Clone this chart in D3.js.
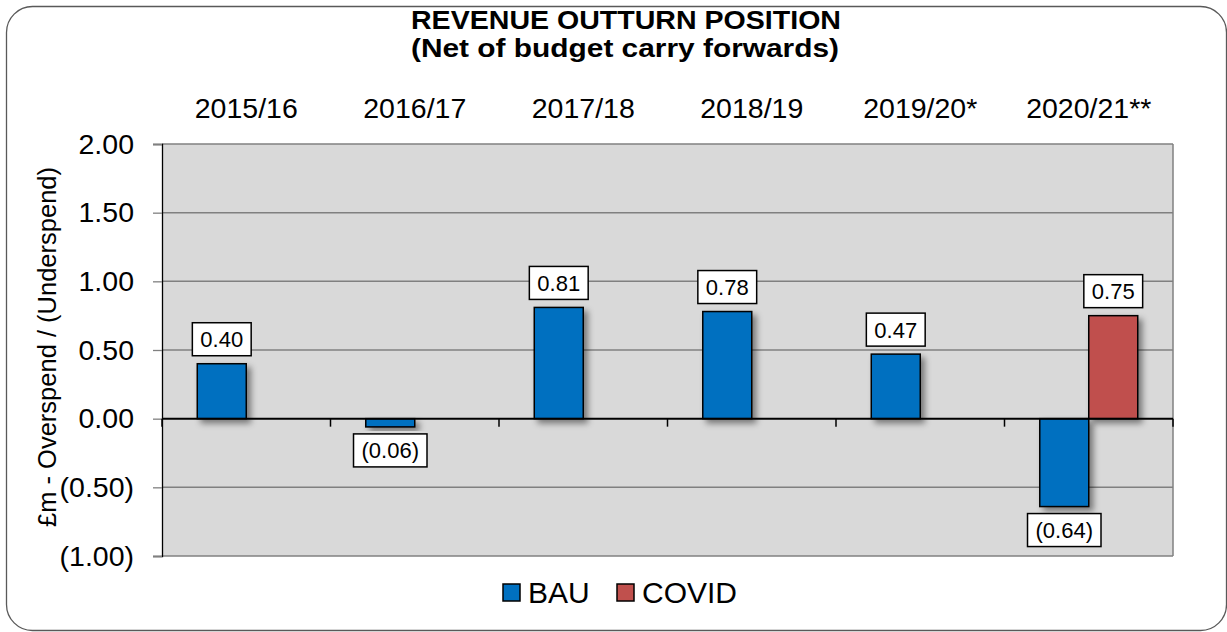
<!DOCTYPE html>
<html lang="en">
<head>
<meta charset="UTF-8">
<title>Revenue Outturn Position</title>
<script src="https://d3js.org/d3.v7.min.js"></script>
<style>
  body { margin: 0; background: #fff; }
  text { font-family: "Liberation Sans", Arial, sans-serif; fill: #000; }
</style>
</head>
<body>
<script>
// data
var years = ["2015/16", "2016/17", "2017/18", "2018/19", "2019/20*", "2020/21**"];
var seriesNames = ["BAU", "COVID"];
var bau = [0.40, -0.06, 0.81, 0.78, 0.47, -0.64];
var covid = [null, null, null, null, null, 0.75];
var yTicks = [-1, -0.5, 0, 0.5, 1, 1.5, 2];
var colours = {BAU: "#0070C0", COVID: "#C0504D"};

var W = 1227, H = 632;
var margin = {top: 144, right: 54, bottom: 76, left: 162};
var width = W - margin.left - margin.right,
    height = H - margin.top - margin.bottom;

function fmt(v) {
    var s = Math.abs(v).toFixed(2);
    return v < 0 ? "(" + s + ")" : s;
}

var svg = d3.select("body").append("svg")
    .attr("width", W)
    .attr("height", H);

var defs = svg.append("defs");
var shadow = defs.append("filter").attr("id", "shadow")
    .attr("x", "-30%").attr("y", "-30%").attr("width", "170%").attr("height", "170%");
shadow.append("feDropShadow")
    .attr("dx", 4).attr("dy", 4).attr("stdDeviation", 3)
    .attr("flood-color", "#000").attr("flood-opacity", 0.45);

// outer frame
svg.append("rect")
    .attr("x", 6.5).attr("y", 6.5)
    .attr("width", 1220).attr("height", 624)
    .attr("rx", 26).attr("ry", 26)
    .style("fill", "none").style("stroke", "#595959").style("stroke-width", 1.3);

// title
var title = svg.append("g");
title.append("text")
    .attr("x", 626).attr("y", 29)
    .attr("text-anchor", "middle")
    .attr("textLength", 430).attr("lengthAdjust", "spacingAndGlyphs")
    .style("font-weight", "bold").style("font-size", "25px")
    .text("REVENUE OUTTURN POSITION");
title.append("text")
    .attr("x", 625).attr("y", 57)
    .attr("text-anchor", "middle")
    .attr("textLength", 428).attr("lengthAdjust", "spacingAndGlyphs")
    .style("font-weight", "bold").style("font-size", "25px")
    .text("(Net of budget carry forwards)");

var g = svg.append("g")
    .attr("transform", "translate(" + margin.left + "," + margin.top + ")");

var x0 = d3.scaleBand().domain(years).range([0, width]).padding(0);
var x1 = d3.scaleBand().domain(seriesNames).range([0, x0.bandwidth()])
    .paddingInner(0).paddingOuter(0.72);
var y = d3.scaleLinear().domain([-1, 2]).range([height, 0]);

// plot background
g.append("rect")
    .attr("width", width).attr("height", height)
    .style("fill", "#d9d9d9");

// gridlines
g.selectAll(".grid")
    .data(yTicks.filter(function (d) { return d !== 0; }))
    .enter().append("line")
    .attr("x1", 0).attr("x2", width)
    .attr("y1", function (d) { return y(d); })
    .attr("y2", function (d) { return y(d); })
    .style("stroke", "#808080").style("stroke-width", 1.5);

// right border
g.append("line").attr("x1", width).attr("x2", width).attr("y1", 0).attr("y2", height)
    .style("stroke", "#808080").style("stroke-width", 1.5);

// y axis
var yAxis = g.append("g")
    .call(d3.axisLeft(y).tickValues(yTicks).tickSize(9).tickPadding(19)
        .tickFormat(fmt));
yAxis.select(".domain").style("stroke", "#000").style("stroke-width", 1.3);
yAxis.selectAll(".tick line").style("stroke", "#808080").style("stroke-width", 1.3);
yAxis.selectAll(".tick text")
    .style("font-size", "28.5px")
    .style("font-family", "'Liberation Sans', Arial, sans-serif");

// y axis title
svg.append("text")
    .attr("transform", "translate(56," + (margin.top + y(0.5) - 3) + ") rotate(-90)")
    .attr("text-anchor", "middle")
    .style("font-size", "25.5px")
    .text("£m - Overspend / (Underspend)");

// category labels above the plot
svg.selectAll(".cat")
    .data(years)
    .enter().append("text")
    .attr("x", function (d) { return margin.left + x0(d) + x0.bandwidth() / 2; })
    .attr("y", 118)
    .attr("text-anchor", "middle")
    .style("font-size", "28.5px")
    .text(function (d) { return d; });

// bars
var rows = years.map(function (yr, i) {
    return {year: yr, values: [{key: "BAU", v: bau[i]}, {key: "COVID", v: covid[i]}]};
});

var groups = g.selectAll(".grp")
    .data(rows)
    .enter().append("g")
    .attr("transform", function (d) { return "translate(" + x0(d.year) + ",0)"; });

var items = groups.selectAll(".item")
    .data(function (d) { return d.values.filter(function (e) { return e.v !== null; }); })
    .enter().append("g");

items.append("rect")
    .attr("x", function (d) { return x1(d.key); })
    .attr("y", function (d) { return y(Math.max(0, d.v)); })
    .attr("width", x1.bandwidth())
    .attr("height", function (d) { return Math.abs(y(d.v) - y(0)); })
    .attr("filter", "url(#shadow)")
    .style("fill", function (d) { return colours[d.key]; })
    .style("stroke", "#000").style("stroke-width", 1.5);

// zero line with category ticks
g.append("line")
    .attr("x1", 0).attr("x2", width)
    .attr("y1", y(0)).attr("y2", y(0))
    .style("stroke", "#000").style("stroke-width", 2);
g.selectAll(".xtick")
    .data(years.concat(["end"]))
    .enter().append("line")
    .attr("x1", function (d, i) { return i * x0.step(); })
    .attr("x2", function (d, i) { return i * x0.step(); })
    .attr("y1", y(0)).attr("y2", y(0) + 8)
    .style("stroke", "#000").style("stroke-width", 1.5);

// data labels
items.each(function (d) {
    var item = d3.select(this);
    var cx = x1(d.key) + x1.bandwidth() / 2;
    var label = item.append("g");
    var txt = label.append("text")
        .attr("x", cx)
        .attr("text-anchor", "middle")
        .style("font-size", "22px")
        .text(fmt(d.v));
    var tw = txt.node().getComputedTextLength();
    var bw = tw + 16, bh = 33;
    var by = d.v >= 0 ? y(d.v) - 8 - bh : y(d.v) + 7;
    txt.attr("y", by + bh / 2 + 8);
    label.insert("rect", "text")
        .attr("x", cx - bw / 2).attr("y", by)
        .attr("width", bw).attr("height", bh)
        .style("fill", "#fff").style("stroke", "#000").style("stroke-width", 1.5);
});

// legend
var legend = svg.append("g").attr("transform", "translate(503,584)");
var legendX = [0, 114];
seriesNames.forEach(function (name, i) {
    var lg = legend.append("g").attr("transform", "translate(" + legendX[i] + ",0)");
    lg.append("rect")
        .attr("width", 17).attr("height", 17)
        .style("fill", colours[name]).style("stroke", "#000").style("stroke-width", 1.5);
    lg.append("text")
        .attr("x", 25).attr("y", 19)
        .style("font-size", "30px")
        .text(name);
});
</script>
</body>
</html>
